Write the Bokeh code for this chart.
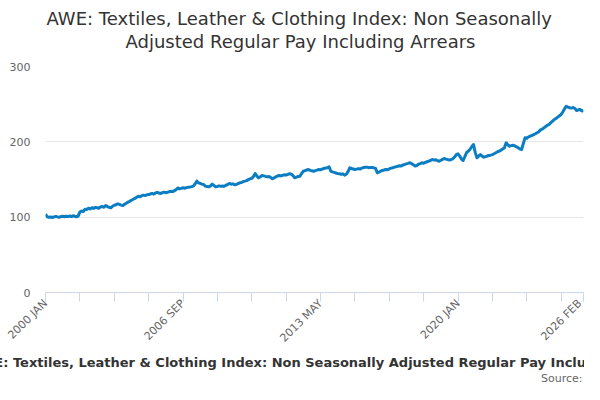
from bokeh.plotting import figure
from bokeh.models import Range1d, FixedTicker, Title
from bokeh.embed import file_html
from bokeh.resources import INLINE

MONTHS = ["JAN", "FEB", "MAR", "APR", "MAY", "JUN", "JUL", "AUG", "SEP", "OCT", "NOV", "DEC"]
categories = [f"{2000 + i // 12} {MONTHS[i % 12]}" for i in range(314)]

values = [
    104.0, 100.5, 99.8, 100.2, 99.6, 100.4, 101.0, 100.3, 99.9, 100.8, 101.2, 100.6,
    101.3, 100.7, 101.5, 100.9, 101.8, 101.2, 100.6, 101.4, 106.8, 108.2, 107.5, 110.6,
    110.2, 111.8, 111.0, 112.5, 111.6, 113.0, 112.4, 111.8, 113.6, 114.2, 113.1, 115.5,
    114.0, 113.2, 112.4, 114.5, 115.8, 116.4, 117.7, 116.9, 116.0, 115.5, 117.2, 118.6,
    120.0, 121.0, 122.5, 123.8, 125.0, 126.3, 127.8, 127.0, 128.5, 129.2, 128.6, 129.8,
    130.0, 130.8, 131.5, 130.6, 132.2, 133.0, 132.0, 131.4, 132.6, 133.2, 132.5, 133.0,
    133.8, 134.5, 133.9, 135.2, 136.5, 138.8, 137.6, 138.2, 139.0, 138.4, 139.2, 139.6,
    140.0, 140.5, 141.2, 144.0, 147.8, 145.6, 144.8, 143.9, 143.4, 141.2, 140.6, 140.3,
    141.5, 144.0, 142.0, 140.3, 140.8, 141.6, 140.9, 141.4, 141.0, 142.3, 143.5, 144.7,
    143.8, 144.2, 143.0, 143.4, 144.6, 145.6, 146.0, 147.2, 147.8, 148.5, 149.8, 150.9,
    151.5, 154.0, 158.0, 154.5, 152.2, 153.6, 155.3, 154.8, 154.2, 153.5, 154.0, 152.6,
    151.0, 152.2, 153.4, 154.6, 155.3, 154.8, 155.6, 156.2, 155.9, 156.8, 157.6, 157.0,
    155.0, 152.3, 153.2, 154.0, 154.4, 158.0, 161.0, 161.8, 162.6, 163.3, 162.2, 161.5,
    161.0, 161.8, 162.4, 163.3, 162.8, 164.0, 164.6, 165.2, 165.5, 166.9, 161.0, 160.2,
    159.5, 158.6, 157.8, 157.6, 156.9, 157.5, 155.8, 157.0, 160.5, 165.5, 164.6, 164.0,
    163.3, 163.8, 164.5, 163.9, 165.0, 165.8, 166.2, 166.4, 165.7, 166.1, 165.8, 165.5,
    164.8, 158.9, 159.8, 161.0, 162.0, 162.6, 163.4, 163.0, 164.2, 165.0, 165.6, 166.4,
    166.8, 167.7, 168.2, 168.0, 169.4, 170.0, 170.8, 171.4, 172.2, 171.0, 169.5, 168.0,
    168.6, 170.2, 171.0, 172.2, 171.6, 172.8, 173.6, 174.4, 175.2, 176.6, 175.8, 176.2,
    175.0, 174.3, 175.6, 176.8, 177.9, 177.0, 176.4, 175.8, 176.6, 177.5, 179.8, 183.0,
    184.1, 181.0, 177.2, 175.2, 180.5, 185.8, 187.6, 190.2, 193.5, 196.5, 186.0, 178.8,
    181.0, 183.2, 181.0, 179.6, 180.4, 181.2, 182.0, 182.3, 183.0, 184.2, 185.5, 186.8,
    187.6, 189.0, 190.4, 192.1, 198.7, 196.0, 194.2, 195.0, 195.5, 194.6, 193.4, 192.0,
    190.5, 189.8, 198.0, 205.4, 204.8, 206.6, 207.5, 208.4, 209.6, 210.7, 212.0, 213.5,
    215.8, 216.9, 218.6, 220.4, 222.0, 223.2, 225.4, 227.5, 229.6, 231.0, 232.8, 234.6,
    236.3, 240.0, 244.0, 247.3, 246.0, 245.2, 244.8, 245.6, 244.3, 241.6, 242.5, 243.0,
    241.0, 241.6,
]

tick_positions = list(range(0, 314, 20)) + [313]
tick_labels = {0: "2000 JAN", 80: "2006 SEP", 160: "2013 MAY", 240: "2020 JAN", 313: "2026 FEB"}
y_ticks = [0, 100, 200, 300]

title_line1 = "AWE: Textiles, Leather & Clothing Index: Non Seasonally"
title_line2 = "Adjusted Regular Pay Including Arrears"
footer_text = "AWE: Textiles, Leather & Clothing Index: Non Seasonally Adjusted Regular Pay Including Arrears"
source_text = "Source:"

FONT = "DejaVu Sans"

p = figure(width=584, height=384, output_backend="svg", toolbar_location=None,
           x_range=Range1d(0, len(values) - 1), y_range=Range1d(0, 300),
           min_border_left=45, min_border_right=1, min_border_top=0, min_border_bottom=0)
p.title = None
p.outline_line_color = None
p.background_fill_color = "white"
p.border_fill_color = "white"

x = list(range(len(values)))
p.line(x=x, y=values, line_width=3, line_color="#0b7dc3", line_join="round")

p.yaxis.ticker = FixedTicker(ticks=y_ticks)
p.yaxis.axis_line_color = None
p.yaxis.major_tick_line_color = None
p.yaxis.major_tick_out = 0
p.yaxis.major_tick_in = 0
p.yaxis.minor_tick_line_color = None
p.yaxis.minor_tick_out = 0
p.yaxis.major_label_text_color = "#666666"
p.yaxis.major_label_text_font = FONT
p.yaxis.major_label_text_font_size = "11px"
p.yaxis.major_label_standoff = 15

p.xaxis.ticker = FixedTicker(ticks=tick_positions)
p.xaxis.major_label_overrides = {t: tick_labels.get(t, "") for t in tick_positions}
p.xaxis.axis_label = None
p.xaxis.axis_label_standoff = 0
p.xaxis.axis_line_color = "#ccd6eb"
p.xaxis.major_tick_line_color = "#ccd6eb"
p.xaxis.major_tick_out = 9
p.xaxis.major_tick_in = 0
p.xaxis.minor_tick_line_color = None
p.xaxis.minor_tick_out = 0
p.xaxis.major_label_orientation = 0.785398
p.xaxis.major_label_text_color = "#666666"
p.xaxis.major_label_text_font = FONT
p.xaxis.major_label_text_font_size = "11px"
p.xaxis.major_label_standoff = 0

p.xgrid.grid_line_color = None
p.ygrid.grid_line_color = "#e6e6e6"


def spacer(gap):
    return Title(text=" ", text_font_size="1px", standoff=gap)


def title(txt, size, color, style="normal", align="left", offset=0, standoff=0):
    return Title(text=txt, align=align, offset=offset, text_font=FONT,
                 text_font_size=size, text_font_style=style, text_color=color,
                 standoff=standoff)


# above panels: first added sits nearest the plot
p.add_layout(spacer(12), "above")
p.add_layout(title(title_line2, "18px", "#333333", offset=80), "above")
p.add_layout(title(title_line1, "18px", "#333333", offset=1), "above")
p.add_layout(spacer(2), "above")

p.add_layout(title(footer_text, "13px", "#333333", style="bold", offset=-75), "below")
p.add_layout(title(source_text, "11px", "#666666", align="right", offset=1), "below")

open("out.html", "w").write(file_html(p, INLINE))
